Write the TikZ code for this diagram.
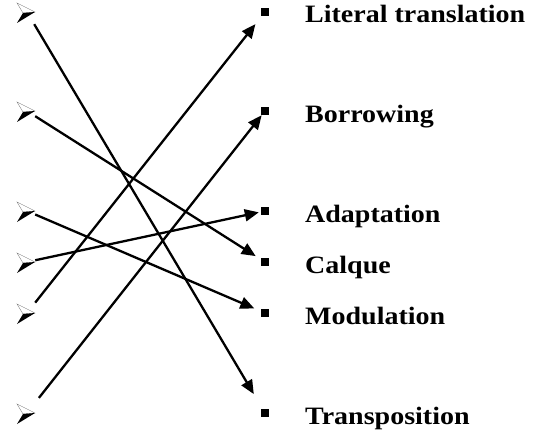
\documentclass[tikz,border=0pt]{standalone}
\usepackage{fontspec}
\setmainfont{Liberation Serif}[FakeStretch=1.12]
\usetikzlibrary{arrows.meta}

\begin{document}
\begin{tikzpicture}[x=1pt, y=-1pt,
  src/.style={minimum width=16pt, minimum height=24pt, inner sep=0pt},
  tgt/.style={fill=black, minimum size=8.5pt, inner sep=0pt, outer sep=0pt},
  term/.style={anchor=base west, inner sep=0pt,
               font=\fontsize{25}{25}\selectfont\bfseries},
  link/.style={line width=2.3pt, -{Triangle[length=14pt, width=12pt]}}
]
  \useasboundingbox (0,0) rectangle (555,436);

  % Sources
  \node[src] (s1) at (27,12) {};
  \node[src] (s2) at (27,111) {};
  \node[src] (s3) at (27,211) {};
  \node[src] (s4) at (27,262) {};
  \node[src] (s5) at (27,313) {};
  \node[src] (s6) at (27,413) {};

  % Pointer glyphs
  \foreach \n in {s1,s2,s3,s4,s5,s6} {
    \begin{scope}[shift={(\n.center)}]
      \filldraw[draw=gray, fill=white, line width=0.4pt]
        (-10,-9) -- (8,0) -- (-4,1) -- cycle;
      \fill (-4,1) -- (8,0) -- (-10,11) -- cycle;
    \end{scope}
  }

  % Targets
  \node[tgt] (t1) at (265,12) {};
  \node[tgt] (t2) at (265,111) {};
  \node[tgt] (t3) at (265,211) {};
  \node[tgt] (t4) at (265,262) {};
  \node[tgt] (t5) at (265,313) {};
  \node[tgt] (t6) at (265,413) {};

  % Labels
  \node[term] (n1) at (305,23) {Literal translation};
  \node[term] (n2) at (305,122) {Borrowing};
  \node[term] (n3) at (305,222) {Adaptation};
  \node[term] (n4) at (305,273) {Calque};
  \node[term] (n5) at (305,324) {Modulation};
  \node[term] (n6) at (305,424) {Transposition};

  % Lines
  \draw[link, shorten >=17pt] (s1) -- (t6);
  \draw[link, shorten >=6pt] (s2) -- (t4);
  \draw[link, shorten >=7pt] (s3) -- (t5);
  \draw[link, shorten >=2pt] (s4) -- (t3);
  \draw[link, shorten >=10pt] (s5) -- (t1);
  \draw[link, shorten <=6pt] (s6) -- (t2);
\end{tikzpicture}
\end{document}
